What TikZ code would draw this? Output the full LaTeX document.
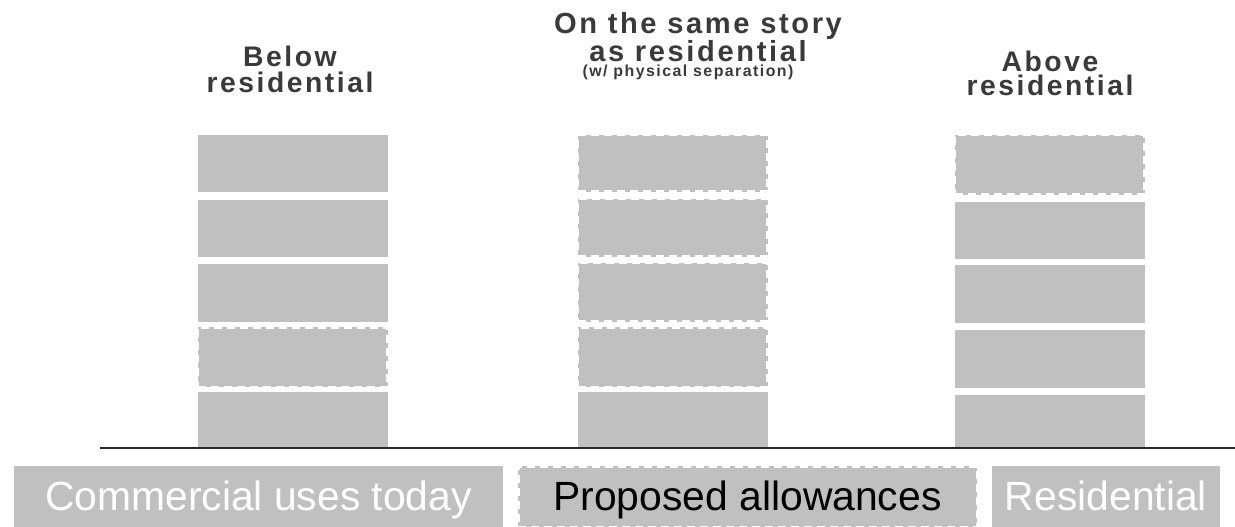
\documentclass[tikz,border=0pt]{standalone}
\usepackage{fontspec}
\setmainfont{Liberation Sans}
\newfontfamily\headfont[LetterSpace=9]{Liberation Sans}
\definecolor{floorGray}{RGB}{192,192,192}
\definecolor{headGray}{RGB}{58,58,58}
\begin{document}
\begin{tikzpicture}
[x=0.5bp,y=-0.5bp,%
  floorDecorate/.style={shape=rectangle,fill=floorGray,inner sep=0pt,minimum width=95bp},%
  floorDashed/.style={floorDecorate,draw=white,line width=1.5bp,dash pattern=on 4bp off 2.5bp},%
  headDecorate/.style={anchor=north,inner sep=0pt,align=center,text=headGray},%
  legendDecorate/.style={shape=rectangle,fill=floorGray,inner sep=0pt,minimum height=30.5bp,
    font=\fontsize{20.5}{24}\selectfont,text height=16bp,text depth=2.5bp},%
  groundDecorate/.style={draw=black!85,line width=1bp}]
\useasboundingbox (0,0) rectangle (1235,527);
%% headings
\node (below) at (290,46) [headDecorate,font=\headfont\bfseries\fontsize{14.2}{12.6}\selectfont] {Below\\residential};
\node (same) at (698,12) [headDecorate,font=\headfont\bfseries\fontsize{14.6}{14}\selectfont] {On the same story\\as residential};
\node (sep) at (688,77) [anchor=base,inner sep=0pt,text=headGray,font=\headfont\bfseries\fontsize{8}{9}\selectfont] {(w/ physical separation)};
\node (above) at (1050,51) [headDecorate,font=\headfont\bfseries\fontsize{14.2}{12}\selectfont] {Above\\residential};
%% floors, plain
\foreach \nodename/\x/\y/\h in {b1/292.5/163.5/57, b2/292.5/228.5/57, b3/292.5/293/58, b5/292.5/420/56,
  s5/672.5/420/56,
  a2/1049.5/230.5/57, a3/1049.5/294/58, a4/1049.5/359/58, a5/1049.5/421.5/53}
{
  \node (\nodename) at (\x,\y) [floorDecorate,minimum height=\h*0.5bp] {};
}
%% floors, dashed
\foreach \nodename/\x/\y/\h in {b4/292.5/357/60,
  s1/672.5/163.5/57, s2/672.5/228/58, s3/672.5/292.5/59, s4/672.5/357/60,
  a1/1049.5/165/60}
{
  \node (\nodename) at (\x,\y) [floorDashed,minimum height=\h*0.5bp] {};
}
%% ground
\coordinate (groundL) at (100,448);
\coordinate (groundR) at (1235,448);
\draw[groundDecorate] (groundL) -- (groundR);
%% legend
\node (today) at (258.5,496.5) [legendDecorate,minimum width=244.5bp,text=white] {Commercial uses today};
\node (proposed) at (747.5,496.5) [legendDecorate,minimum width=229.5bp,draw=white,line width=1.5bp,
  dash pattern=on 4bp off 2.5bp,text=black] {Proposed allowances};
\node (resid) at (1106,496.5) [legendDecorate,minimum width=114bp,text=white] {Residential};
\end{tikzpicture}
\end{document}
